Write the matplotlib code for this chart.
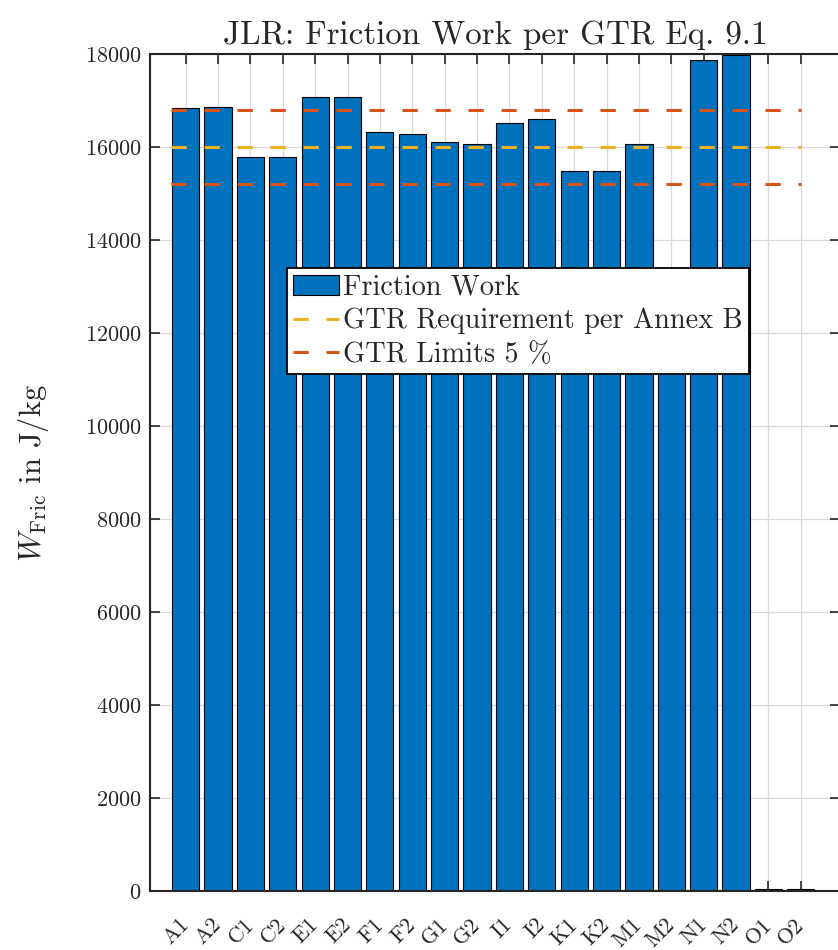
import matplotlib
matplotlib.use("Agg")
import matplotlib.pyplot as plt
import matplotlib.transforms as mtransforms
import numpy as np

plt.rcParams["font.family"] = ["cmr10", "DejaVu Serif"]
plt.rcParams["mathtext.fontset"] = "cm"
plt.rcParams["axes.formatter.use_mathtext"] = True

# Test runs and friction work per run
runs = ["A1", "A2", "C1", "C2", "E1", "E2", "F1", "F2", "G1", "G2",
        "I1", "I2", "K1", "K2", "M1", "M2", "N1", "N2", "O1", "O2"]
friction_work = [16830, 16860, 15790, 15790, 17080, 17080, 16330, 16280, 16110, 16065,
                 16520, 16600, 15490, 15490, 16060, 13000, 17870, 17980, 50, 50]

# GTR requirement and the +/- 5 % band
requirement = 16000
tolerance = 0.05
limits = [requirement * (1 - tolerance), requirement * (1 + tolerance)]

TXT = "#262626"
BLUE = "#0072BD"
YELLOW = "#EDB120"
ORANGE = "#D95319"

fig = plt.figure(figsize=(8.38, 9.5), dpi=100)
ax = fig.add_axes([150 / 838, 1 - 891 / 950, 1 - 150 / 838 + 0.002, (891 - 54) / 950])

x = np.arange(1, len(runs) + 1)
bars = ax.bar(x, friction_work, width=0.84, color=BLUE, edgecolor="black",
              linewidth=0.8, zorder=2, label="Friction Work")

line_x = [x[0] - 0.45, x[-1]]
dash = (0, (5, 5.8))
req_line, = ax.plot(line_x, [requirement] * 2, color=YELLOW, lw=2.2, linestyle=dash,
                    zorder=3, label="GTR Requirement per Annex B")
lim_line, = ax.plot(line_x, [limits[1]] * 2, color=ORANGE, lw=2.2, linestyle=dash,
                    zorder=3, label="GTR Limits 5 %")
ax.plot(line_x, [limits[0]] * 2, color=ORANGE, lw=2.2, linestyle=dash, zorder=3)

ax.set_xlim(x[0] - 1.1, x[-1] + 1.2)
ax.set_ylim(0, 18000)
ax.set_yticks(np.arange(0, 18001, 2000))
ax.set_xticks(x)
ax.set_xticklabels(runs, rotation=45, ha="right", va="center",
                   rotation_mode="anchor", fontsize=18)
# nudge the slanted run labels slightly right
shift = mtransforms.ScaledTranslation(5 / 100, 0, fig.dpi_scale_trans)
for lbl in ax.get_xticklabels():
    lbl.set_transform(lbl.get_transform() + shift)

ax.grid(True, color="#d9d9d9", lw=0.9, zorder=0)
ax.set_axisbelow(True)
ax.tick_params(direction="in", length=7, width=1.2, colors=TXT, labelsize=16,
               top=True, right=True, pad=6)
ax.tick_params(axis="x", pad=22)
for s in ax.spines.values():
    s.set_color(TXT)
    s.set_linewidth(1.5)

ax.set_title("JLR: Friction Work per GTR Eq. 9.1", fontsize=23.8, color=TXT, pad=7)
ax.set_ylabel(r"$W_{\mathrm{Fric}}$ in J/kg", fontsize=22, color=TXT)
ax.yaxis.set_label_coords(-0.143, 0.5)

leg = ax.legend(handles=[bars, req_line, lim_line],
                loc="upper left", bbox_to_anchor=(0.199, 0.744), borderaxespad=0,
                fontsize=20.4, frameon=True, fancybox=False, framealpha=1,
                edgecolor="black", handlelength=1.6, handletextpad=0.15,
                labelspacing=0.25, borderpad=0.22)
leg.get_frame().set_linewidth(1.3)
for t in leg.get_texts():
    t.set_color(TXT)

fig.savefig("out.png", dpi=100)
